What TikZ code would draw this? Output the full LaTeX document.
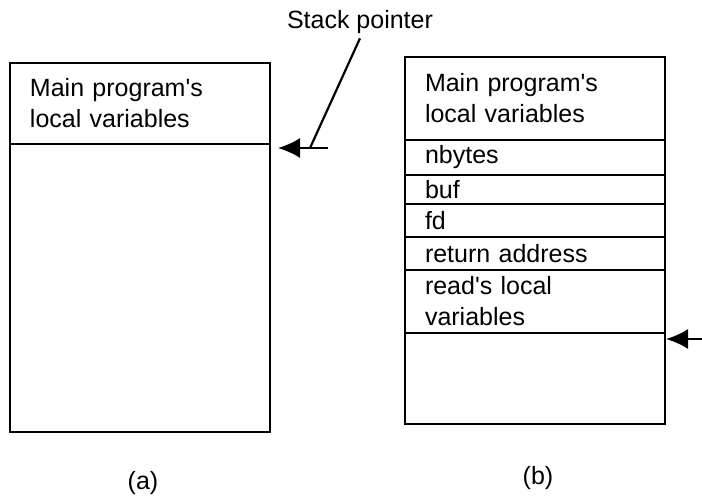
\documentclass[tikz,border=0pt]{standalone}
\usepackage{fontspec}
\setmainfont{Liberation Sans}
\usetikzlibrary{arrows.meta, positioning}
\tikzset{
  every picture/.style={font=\fontsize{12.5}{15.5}\selectfont, line width=1.1pt},
  cell/.style={draw, outer sep=0pt, inner xsep=10pt, inner ysep=0pt, text width=110pt, align=left, minimum height=#1},
  cell/.default=20pt,
  arrow/.style={-{Latex[length=11pt, width=10pt]}, line width=1.1pt},
  tag/.style={inner sep=2pt},
}
\begin{document}
\begin{tikzpicture}[x=0.5pt, y=-0.5pt]
  \useasboundingbox (0,0) rectangle (702,500);
  % (a) stack before the call
  \node[cell=40.5pt, anchor=north west] (mainA) at (10,63) {Main program\textquotesingle s\\local variables};
  \node[cell=144pt, below=0pt of mainA] (freeA) {};
  \node (labA) at (143,483) {(a)};
  % (b) stack during the call
  \node[cell=41.5pt, anchor=north west] (mainB) at (405,57) {Main program\textquotesingle s\\local variables};
  \node[cell=17.5pt, below=0pt of mainB] (nbytes) {nbytes};
  \node[cell=14.5pt, below=0pt of nbytes] (buf) {buf};
  \node[cell=16.5pt, below=0pt of buf] (fd) {fd};
  \node[cell=16.5pt, below=0pt of fd] (ret) {return address};
  \node[cell=31.5pt, below=0pt of ret] (readB) {read\textquotesingle s local\\variables};
  \node[cell=45.5pt, below=0pt of readB] (freeB) {};
  \node (labB) at (538,478) {(b)};
  % stack pointer
  \node[tag, anchor=base] (sp) at (360,28) {Stack pointer};
  \coordinate (tailA) at (328,148);
  \coordinate (kneeA) at (310,148);
  \coordinate (tailB) at (702,339);
  \draw[arrow] (tailA) -- ([xshift=4pt, yshift=-2pt]freeA.north east);
  \draw (sp.south) -- (kneeA);
  \draw[arrow] (tailB) -- ([xshift=0.5pt, yshift=-3pt]freeB.north east);
\end{tikzpicture}
\end{document}
